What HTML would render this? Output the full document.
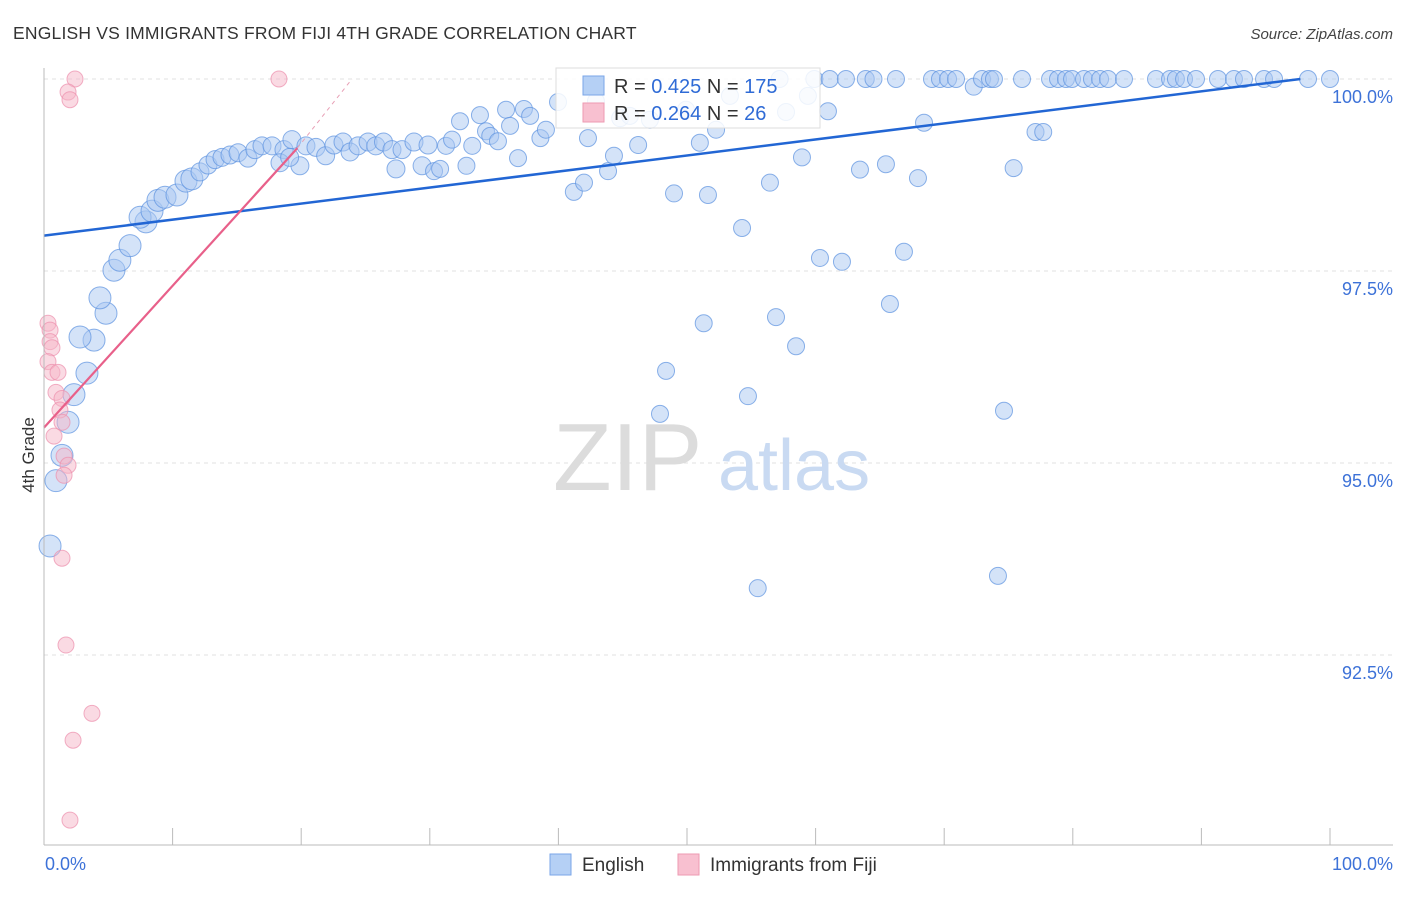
<!DOCTYPE html>
<html><head><meta charset="utf-8">
<style>
body{margin:0;background:#fff;font-family:"Liberation Sans",sans-serif;}
svg text{font-family:"Liberation Sans",sans-serif;}
</style></head>
<body>
<svg id="chart" width="1406" height="892" viewBox="0 0 1406 892" xmlns="http://www.w3.org/2000/svg">
<text x="13" y="39" font-size="17.5" fill="#333" letter-spacing="0.2">ENGLISH VS IMMIGRANTS FROM FIJI 4TH GRADE CORRELATION CHART</text>
<text x="1393" y="39" font-size="15" fill="#444" font-style="italic" text-anchor="end">Source: ZipAtlas.com</text>
<g id="grid"></g>
<text x="553" y="490" font-size="96" fill="#dcdcdc" font-family="Liberation Serif">ZIP</text>
<text x="718" y="490" font-size="72" fill="#c9daf2">atlas</text>
<g id="pts-en"></g>
<g id="pts-fj"></g>
<g id="lines"></g>
<g id="axes"></g>
<text transform="translate(34,455) rotate(-90)" font-size="17" fill="#333" text-anchor="middle">4th Grade</text>
<g>
<rect x="556" y="68" width="264" height="60" fill="#fff" fill-opacity="0.85" stroke="#ddd"/>
<rect x="583" y="76" width="21" height="19" fill="#b5d0f5" stroke="#7aa6e8"/>
<rect x="583" y="103" width="21" height="19" fill="#f8c0d0" stroke="#ee9ab2"/>
<text x="614" y="93" font-size="20" fill="#333">R = <tspan fill="#2f6bd6">0.425</tspan>   N = <tspan fill="#2f6bd6">175</tspan></text>
<text x="614" y="120" font-size="20" fill="#333">R = <tspan fill="#2f6bd6">0.264</tspan>   N = <tspan fill="#2f6bd6">  26</tspan></text>
</g>
<g>
<rect x="550" y="854" width="21" height="21" fill="#b5d0f5" stroke="#7aa6e8"/>
<text x="582" y="871" font-size="19" fill="#333">English</text>
<rect x="678" y="854" width="21" height="21" fill="#f8c0d0" stroke="#ee9ab2"/>
<text x="710" y="871" font-size="19" fill="#333">Immigrants from Fiji</text>
</g>
</svg>
<script>
const yTicks=[100,97.5,95,92.5];
const yTickLabels=["100.0%","97.5%","95.0%","92.5%"];
const xTickLabels=["0.0%","100.0%"];
const enX=[0.47,0.93,1.4,1.87,2.33,3.34,3.89,2.8,4.82,4.35,5.44,5.9,6.69,7.93,7.47,8.4,8.86,9.41,10.34,11.04,11.5,12.13,12.75,13.3,13.84,14.46,15.09,15.86,16.4,16.95,17.73,18.66,19.28,18.35,19.9,19.1,20.37,21.15,21.9,22.55,23.25,23.8,24.42,25.2,25.8,26.4,27.06,27.84,27.37,28.77,29.4,29.86,30.33,30.8,31.26,31.73,32.35,32.85,33.3,33.9,34.37,34.7,35.3,35.93,36.24,36.86,37.32,37.8,38.6,39.03,39.97,41.2,41.99,42.3,42.92,43.86,44.32,44.8,45.56,46.2,47.12,48.37,47.9,48.99,49.92,51.0,51.3,51.63,52.26,53.34,54.28,54.74,55.5,56.45,56.92,57.2,57.7,58.48,58.94,59.4,59.9,60.34,60.96,61.1,62.05,62.36,63.45,63.9,64.5,65.47,65.78,66.25,66.87,67.96,68.43,69.05,69.67,70.3,70.92,72.3,72.94,73.56,73.87,74.65,74.18,75.4,76.05,77.1,77.7,78.23,78.85,79.47,79.94,80.87,81.49,82.12,82.74,83.98,86.47,87.56,88.02,88.65,89.58,91.29,92.53,93.31,94.87,95.65,98.29,100];
const enY=[93.92,94.77,95.10,95.53,95.89,96.17,96.60,96.64,96.95,97.15,97.51,97.64,97.83,98.14,98.20,98.28,98.42,98.46,98.49,98.67,98.70,98.79,98.88,98.95,98.98,99.01,99.04,98.97,99.08,99.13,99.13,99.08,99.21,98.91,98.87,98.98,99.13,99.11,99.0,99.14,99.18,99.05,99.13,99.18,99.13,99.18,99.08,99.08,98.83,99.18,98.87,99.14,98.80,98.83,99.13,99.21,99.45,98.87,99.13,99.53,99.32,99.26,99.19,99.60,99.39,98.97,99.61,99.52,99.23,99.34,99.70,98.53,98.65,99.23,99.71,98.80,99.0,99.49,99.52,99.14,99.47,96.2,95.64,98.51,99.60,99.17,96.82,98.49,99.34,99.78,98.06,95.87,93.37,98.65,96.90,100,99.57,96.52,98.98,99.78,100,97.67,99.58,100,97.62,100,98.82,100,100,98.89,97.07,100,97.75,98.71,99.43,100,100,100,100,99.9,100,100,100,95.68,93.53,98.84,100,99.31,99.31,100,100,100,100,100,100,100,100,100,100,100,100,100,100,100,100,100,100,100,100,100];
const fjX=[2.41,1.87,2.02,18.27,0.31,0.47,0.47,0.62,0.31,0.62,1.09,0.93,1.4,1.24,1.4,0.78,1.56,1.87,1.56,1.4,1.71,3.73,2.26,2.02];
const fjY=[100,99.83,99.73,100,96.82,96.73,96.58,96.5,96.32,96.18,96.18,95.92,95.84,95.69,95.53,95.35,95.09,94.97,94.84,93.76,92.63,91.74,91.39,90.35];
const enTrend=[[0,97.96],[97.7,100]];
const fjTrend=[[0,95.46],[19.7,99.1],[23.95,100]];
const X=v=>44+v*12.86, Y=v=>79+(100-v)*76.8;
const NS="http://www.w3.org/2000/svg";
function mk(p,t,a){const e=document.createElementNS(NS,t);for(const k in a)e.setAttribute(k,a[k]);p.appendChild(e);return e;}
const grid=document.getElementById('grid'),axes=document.getElementById('axes');
yTicks.forEach((t,i)=>{
 const l=mk(grid,'line',{x1:44,x2:1393,y1:Y(t),y2:Y(t),stroke:'#e0e0e0','stroke-dasharray':'4,4'});
 
 
 const tx=mk(axes,'text',{x:1393,y:Y(t)+24,'font-size':18,fill:'#3d72d8','text-anchor':'end'});
 tx.textContent=yTickLabels[i];
 
 
});
mk(axes,'line',{x1:44,x2:44,y1:68,y2:845,stroke:'#bbb'});
mk(axes,'line',{x1:44,x2:1393,y1:845,y2:845,stroke:'#bbb'});
for(let i=0;i<=10;i++){const x=X(i*10);mk(axes,'line',{x1:x,x2:x,y1:828,y2:845,stroke:'#bbb'});}
const xl0=mk(axes,'text',{x:45,y:870,'font-size':18,fill:'#3d72d8'});xl0.textContent=xTickLabels[0];


const xl1=mk(axes,'text',{x:1393,y:870,'font-size':18,fill:'#3d72d8','text-anchor':'end'});xl1.textContent=xTickLabels[1];


const ge=document.getElementById('pts-en');
enX.forEach((x,i)=>{
 const r=x<12?11:(x<30?9:8.5);
 const c=mk(ge,'circle',{cx:X(x),cy:Y(enY[i]),r:r,fill:'#a9c8f2','fill-opacity':0.5,stroke:'#5b92e0','stroke-opacity':0.7});
 
 
});
const gf=document.getElementById('pts-fj');
fjX.forEach((x,i)=>{
 const c=mk(gf,'circle',{cx:X(x),cy:Y(fjY[i]),r:8,fill:'#f6b5c8','fill-opacity':0.5,stroke:'#ec8fac','stroke-opacity':0.7});
 
 
});
const gl=document.getElementById('lines');
const eL=mk(gl,'line',{x1:X(enTrend[0][0]),y1:Y(enTrend[0][1]),x2:X(enTrend[1][0]),y2:Y(enTrend[1][1]),stroke:'#2266d4','stroke-width':2.5});


const fL=mk(gl,'line',{x1:X(fjTrend[0][0]),y1:Y(fjTrend[0][1]),x2:X(fjTrend[1][0]),y2:Y(fjTrend[1][1]),stroke:'#e8608a','stroke-width':2.2});


const fD=mk(gl,'line',{x1:X(fjTrend[1][0]),y1:Y(fjTrend[1][1]),x2:X(fjTrend[2][0]),y2:Y(fjTrend[2][1]),stroke:'#e8a0b6','stroke-width':1,'stroke-dasharray':'4,4'});


</script>
</body></html>
